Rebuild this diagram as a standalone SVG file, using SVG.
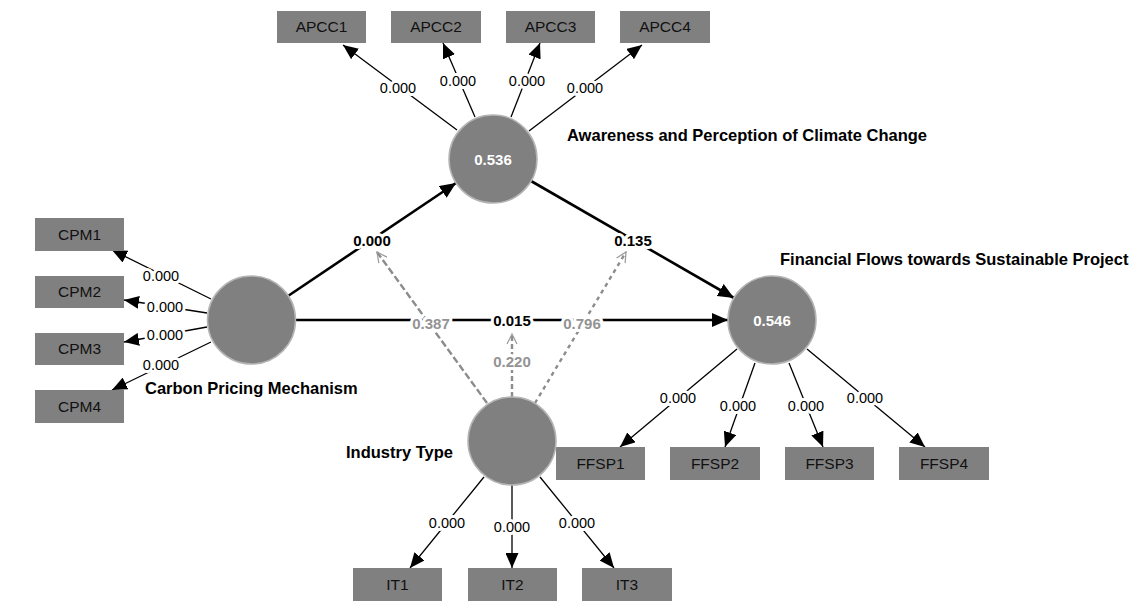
<svg xmlns="http://www.w3.org/2000/svg" width="1140" height="608" viewBox="0 0 1140 608">
<defs>
<marker id="ah" markerUnits="userSpaceOnUse" viewBox="0 0 15 13" refX="15" refY="6.5" markerWidth="15" markerHeight="13" orient="auto"><path d="M0,0 L15,6.5 L0,13 Z" fill="#000"/></marker>
<marker id="ahb" markerUnits="userSpaceOnUse" viewBox="0 0 16 14" refX="16" refY="7" markerWidth="16" markerHeight="14" orient="auto"><path d="M0,0 L16,7 L0,14 Z" fill="#000"/></marker>
<marker id="ao" markerUnits="userSpaceOnUse" viewBox="0 0 12 12" refX="11" refY="6" markerWidth="12" markerHeight="12" orient="auto"><path d="M1,1 L11,6 L1,11" fill="none" stroke="#999" stroke-width="1.2"/></marker>
</defs>
<style>
.box{fill:#808080;}
.bt{font-family:"Liberation Sans",Arial,sans-serif;font-size:15.5px;fill:#111;text-anchor:middle;}
.lv{fill:#808080;stroke:#b4b4b4;stroke-width:1.5;}
.lvt{font-family:"Liberation Sans",Arial,sans-serif;font-size:15px;font-weight:bold;fill:#fff;text-anchor:middle;}
.ttl{font-family:"Liberation Sans",Arial,sans-serif;font-size:16.5px;font-weight:bold;fill:#000;}
.ol{stroke:#000;stroke-width:1.3;fill:none;marker-end:url(#ah);}
.sl{stroke:#000;stroke-width:2.6;fill:none;marker-end:url(#ahb);}
.ml{stroke:#8c8c8c;stroke-width:2.4;fill:none;marker-end:url(#ao);}
.lab{font-family:"Liberation Sans",Arial,sans-serif;font-size:14.5px;fill:#000;text-anchor:middle;paint-order:stroke;stroke:#fff;stroke-width:6px;stroke-linejoin:round;}
.labb{font-family:"Liberation Sans",Arial,sans-serif;font-size:15px;font-weight:bold;fill:#000;text-anchor:middle;paint-order:stroke;stroke:#fff;stroke-width:6px;stroke-linejoin:round;}
.labg{font-family:"Liberation Sans",Arial,sans-serif;font-size:15px;font-weight:bold;fill:#939393;text-anchor:middle;paint-order:stroke;stroke:#fff;stroke-width:6px;stroke-linejoin:round;}
</style>
<rect width="1140" height="608" fill="#fff"/>

<g id="connectors">
  <!-- APCC indicators -->
  <line class="ol" x1="457" y1="130" x2="343" y2="45"/>
  <line class="ol" x1="475" y1="117" x2="443" y2="43"/>
  <line class="ol" x1="511" y1="117" x2="540" y2="43"/>
  <line class="ol" x1="529" y1="131" x2="642" y2="45"/>
  <!-- CPM indicators -->
  <line class="ol" x1="211" y1="299" x2="112" y2="250"/>
  <line class="ol" x1="207" y1="313" x2="124" y2="300"/>
  <line class="ol" x1="207" y1="327" x2="124" y2="342"/>
  <line class="ol" x1="211" y1="342" x2="112" y2="390"/>
  <!-- FFSP indicators -->
  <line class="ol" x1="737" y1="349" x2="620" y2="447"/>
  <line class="ol" x1="755" y1="363" x2="725" y2="447"/>
  <line class="ol" x1="789" y1="363" x2="823" y2="447"/>
  <line class="ol" x1="807" y1="349" x2="925" y2="447"/>
  <!-- IT indicators -->
  <line class="ol" x1="484" y1="477" x2="410" y2="568"/>
  <line class="ol" x1="512" y1="485" x2="512" y2="568"/>
  <line class="ol" x1="540" y1="477" x2="614" y2="568"/>
  <!-- structural paths -->
  <line class="sl" x1="288" y1="296" x2="456" y2="183"/>
  <line class="sl" x1="531" y1="181" x2="734" y2="298"/>
  <line class="sl" x1="296" y1="320" x2="728" y2="320"/>
  <!-- moderating paths -->
  <line class="ml" x1="487" y1="403" x2="377" y2="252" stroke-dasharray="7,3"/>
  <line class="ml" x1="535" y1="403" x2="626" y2="252" stroke-dasharray="4,4"/>
  <line class="ml" x1="512" y1="397" x2="512" y2="334" stroke-dasharray="5,3"/>
  <!-- labels -->
  <text class="lab" x="398" y="93">0.000</text>
  <text class="lab" x="458" y="86">0.000</text>
  <text class="lab" x="527" y="86">0.000</text>
  <text class="lab" x="585" y="93">0.000</text>
  <text class="lab" x="161" y="281">0.000</text>
  <text class="lab" x="165" y="312">0.000</text>
  <text class="lab" x="165" y="340">0.000</text>
  <text class="lab" x="161" y="370">0.000</text>
  <text class="lab" x="678" y="403">0.000</text>
  <text class="lab" x="738" y="411">0.000</text>
  <text class="lab" x="806" y="411">0.000</text>
  <text class="lab" x="865" y="403">0.000</text>
  <text class="lab" x="447" y="528">0.000</text>
  <text class="lab" x="512" y="532">0.000</text>
  <text class="lab" x="577" y="528">0.000</text>
  <text class="labb" x="372" y="246">0.000</text>
  <text class="labb" x="633" y="246">0.135</text>
  <text class="labb" x="512" y="326">0.015</text>
  <text class="labg" x="431" y="329">0.387</text>
  <text class="labg" x="582" y="329">0.796</text>
  <text class="labg" x="512" y="367">0.220</text>
</g>

<g id="APCC1"><rect class="box" x="277" y="11" width="89" height="32"/><text class="bt" x="321.5" y="32">APCC1</text></g>
<g id="APCC2"><rect class="box" x="391" y="11" width="90" height="32"/><text class="bt" x="436" y="32">APCC2</text></g>
<g id="APCC3"><rect class="box" x="506" y="11" width="89" height="32"/><text class="bt" x="550.5" y="32">APCC3</text></g>
<g id="APCC4"><rect class="box" x="620" y="11" width="90" height="32"/><text class="bt" x="665" y="32">APCC4</text></g>

<g id="CPM1"><rect class="box" x="35" y="218" width="89" height="33"/><text class="bt" x="79.5" y="240">CPM1</text></g>
<g id="CPM2"><rect class="box" x="35" y="276" width="89" height="32"/><text class="bt" x="79.5" y="297">CPM2</text></g>
<g id="CPM3"><rect class="box" x="35" y="333" width="89" height="32"/><text class="bt" x="79.5" y="354">CPM3</text></g>
<g id="CPM4"><rect class="box" x="35" y="390" width="89" height="33"/><text class="bt" x="79.5" y="412">CPM4</text></g>

<g id="FFSP1"><rect class="box" x="556" y="447" width="89" height="33"/><text class="bt" x="600.5" y="469">FFSP1</text></g>
<g id="FFSP2"><rect class="box" x="670" y="447" width="90" height="33"/><text class="bt" x="715" y="469">FFSP2</text></g>
<g id="FFSP3"><rect class="box" x="785" y="447" width="89" height="33"/><text class="bt" x="829.5" y="469">FFSP3</text></g>
<g id="FFSP4"><rect class="box" x="899" y="447" width="90" height="33"/><text class="bt" x="944" y="469">FFSP4</text></g>

<g id="IT1"><rect class="box" x="353" y="568" width="89" height="33"/><text class="bt" x="397.5" y="590">IT1</text></g>
<g id="IT2"><rect class="box" x="468" y="568" width="89" height="33"/><text class="bt" x="512.5" y="590">IT2</text></g>
<g id="IT3"><rect class="box" x="582" y="568" width="90" height="33"/><text class="bt" x="627" y="590">IT3</text></g>

<g id="APCC"><circle class="lv" cx="493" cy="159" r="44"/><text class="lvt" x="493" y="165">0.536</text><text class="ttl" x="567" y="141">Awareness and Perception of Climate Change</text></g>
<g id="FFSP"><circle class="lv" cx="772" cy="320" r="44"/><text class="lvt" x="772" y="326">0.546</text><text class="ttl" x="780" y="265">Financial Flows towards Sustainable Project</text></g>
<g id="CPM"><circle class="lv" cx="251.5" cy="320" r="44"/><text class="ttl" x="145" y="394">Carbon Pricing Mechanism</text></g>
<g id="IT"><circle class="lv" cx="512" cy="441" r="44"/><text class="ttl" x="346" y="458">Industry Type</text></g>
</svg>
